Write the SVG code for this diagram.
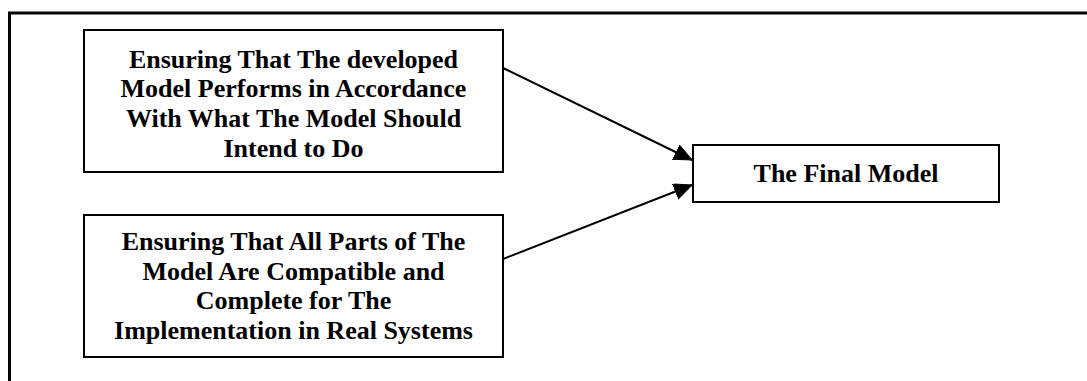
<svg xmlns="http://www.w3.org/2000/svg" width="1087" height="381" viewBox="0 0 1087 381">
  <style>
    .box { fill: #ffffff; stroke: #000000; stroke-width: 2; }
    .label { font-family: "Liberation Serif", "Times New Roman", serif; font-weight: bold; font-size: 26px; fill: #000000; text-anchor: middle; }
    .frame { stroke: #000000; stroke-width: 3; fill: none; }
    .link { stroke: #000000; stroke-width: 2; fill: none; marker-end: url(#head); }
  </style>
  <defs>
    <marker id="head" markerUnits="userSpaceOnUse" markerWidth="20" markerHeight="18" refX="18" refY="8" orient="auto">
      <path d="M0,0 L18,8 L0,16 Z" fill="#000000" stroke="#000000" stroke-width="1"/>
    </marker>
  </defs>
  <rect width="1087" height="381" fill="#ffffff"/>

  <!-- outer frame: top rule and left rule -->
  <path class="frame" d="M9.5,381 L9.5,13 L1087,13"/>

  <g id="connectors">
    <line class="link" x1="503" y1="68" x2="692" y2="160"/>
    <line class="link" x1="503" y1="259" x2="692" y2="185"/>
  </g>

  <g id="node-performs">
    <rect class="box" x="84" y="30" width="419" height="142"/>
    <text class="label" x="293.5" y="67.5">Ensuring That The developed</text>
    <text class="label" x="293.5" y="97.2">Model Performs in Accordance</text>
    <text class="label" x="293.5" y="126.9">With What The Model Should</text>
    <text class="label" x="293.5" y="156.6">Intend to Do</text>
  </g>

  <g id="node-compatible">
    <rect class="box" x="84" y="215" width="419" height="142"/>
    <text class="label" x="293.5" y="250">Ensuring That All Parts of The</text>
    <text class="label" x="293.5" y="279.7">Model Are Compatible and</text>
    <text class="label" x="293.5" y="309.4">Complete for The</text>
    <text class="label" x="293.5" y="339">Implementation in Real Systems</text>
  </g>

  <g id="node-final">
    <rect class="box" x="693" y="145" width="306" height="57"/>
    <text class="label" x="846" y="182">The Final Model</text>
  </g>
</svg>
